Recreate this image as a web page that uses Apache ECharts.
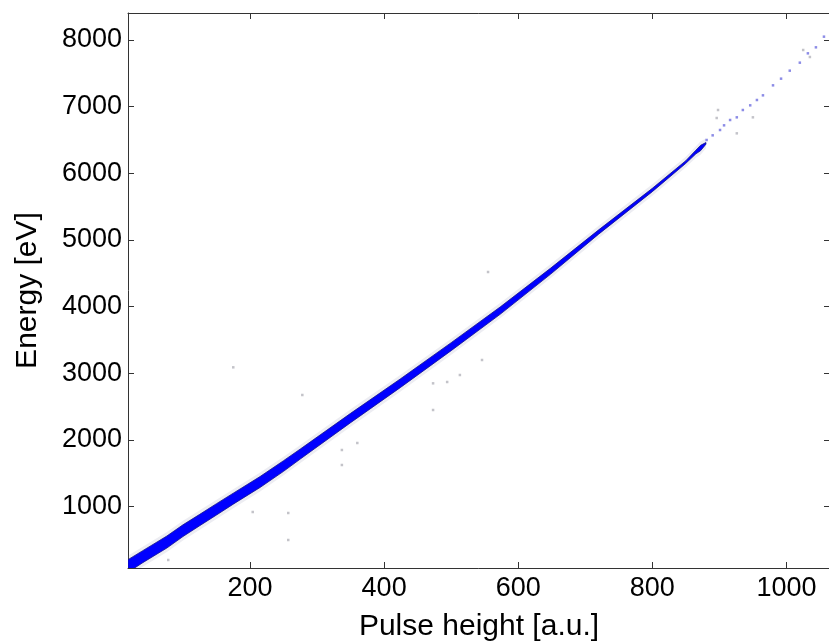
<!DOCTYPE html>
<html>
<head>
<meta charset="utf-8">
<script src="https://cdn.jsdelivr.net/npm/echarts@6/dist/echarts.min.js"></script>
<style>
  html, body { margin: 0; padding: 0; background: #ffffff; }
  #chart { width: 829px; height: 641px; }
</style>
</head>
<body>
<div id="chart"></div>
<script>
// Axis ticks
const xTicks = [200, 400, 600, 800, 1000];
const yTicks = [1000, 2000, 3000, 4000, 5000, 6000, 7000, 8000];

// Dense calibration band: pulse height vs. lower / upper energy edge of the point cloud
const bandPH   = [18, 40, 76, 100, 125, 150, 175, 215, 250, 275, 350, 424, 500, 573, 648, 720, 800, 850, 865, 872, 880];
const bandLow  = [15, 160, 380, 552, 715, 875, 1038, 1288, 1530, 1715, 2260, 2785, 3340, 3885, 4485, 5088, 5725, 6150, 6292, 6340, 6438];
const bandHigh = [205, 340, 560, 728, 885, 1045, 1202, 1452, 1690, 1865, 2400, 2915, 3460, 3995, 4575, 5152, 5775, 6190, 6348, 6420, 6462];

// Sparse high-energy events above ~880 a.u.
const tailPH = [881, 890, 901, 907, 916, 926, 935, 946, 956, 965, 980, 992, 1005, 1020, 1032, 1044, 1056];
const tailE  = [6500, 6570, 6650, 6720, 6800, 6840, 6950, 7020, 7100, 7170, 7320, 7420, 7540, 7660, 7800, 7890, 8050];

// Isolated off-band events
const strayPH = [175, 204, 257, 257, 78, 555, 546, 513, 473, 473, 494, 360, 337, 337, 278, 896, 926, 950, 898, 1025, 1035];
const strayE  = [3090, 920, 905, 500, 200, 4520, 3200, 2975, 2850, 2450, 2870, 1955, 1850, 1625, 2675, 6830, 6600, 6840, 6950, 7850, 7745];

const tailData = tailPH.map((p, i) => [p, tailE[i]]);
const strayData = strayPH.map((p, i) => [p, strayE[i]]);

function renderBand(params, api) {
  const upper = bandPH.map((p, i) => api.coord([p, bandHigh[i]]));
  const lower = bandPH.map((p, i) => api.coord([p, bandLow[i]])).reverse();
  const core = upper.concat(lower);
  const halo = upper.map(q => [q[0], q[1] - 4]).concat(lower.map(q => [q[0], q[1] + 4]));
  return {
    type: 'group',
    children: [
      { type: 'polygon', shape: { points: halo }, style: { fill: 'rgba(130,130,160,0.14)' } },
      { type: 'polygon', shape: { points: core }, style: { fill: '#0000ff', stroke: '#14148c', lineWidth: 0.8 } }
    ]
  };
}

const font = 'Liberation Sans, Arial, Helvetica, sans-serif';
const axisColor = '#333333';
const plain = v => String(v);

const chart = echarts.init(document.getElementById('chart'), null, { renderer: 'canvas' });
chart.setOption({
  animation: false,
  backgroundColor: '#ffffff',
  grid: { left: 128, top: 13, right: -1, bottom: 73, containLabel: false, outerBoundsMode: 'none' },
  xAxis: [
    {
      type: 'value', min: 18, max: 1065, position: 'bottom',
      name: 'Pulse height [a.u.]', nameLocation: 'middle', nameGap: 44,
      nameTextStyle: { fontFamily: font, fontSize: 30, color: '#000' },
      axisLine: { show: true, lineStyle: { color: axisColor, width: 1 } },
      axisTick: { show: true, inside: true, length: 6, customValues: xTicks, lineStyle: { color: axisColor } },
      axisLabel: { show: true, customValues: xTicks, formatter: plain, margin: 7, fontFamily: font, fontSize: 27, color: '#000' },
      splitLine: { show: false }
    },
    {
      type: 'value', min: 18, max: 1065, position: 'top',
      axisLine: { show: true, lineStyle: { color: axisColor, width: 1 } },
      axisTick: { show: true, inside: true, length: 6, customValues: xTicks, lineStyle: { color: axisColor } },
      axisLabel: { show: false },
      splitLine: { show: false }
    }
  ],
  yAxis: [
    {
      type: 'value', min: 80, max: 8405, position: 'left',
      name: 'Energy [eV]', nameLocation: 'middle', nameGap: 85, nameRotate: 90,
      nameTextStyle: { fontFamily: font, fontSize: 30, color: '#000' },
      axisLine: { show: true, lineStyle: { color: axisColor, width: 1 } },
      axisTick: { show: true, inside: true, length: 6, customValues: yTicks, lineStyle: { color: axisColor } },
      axisLabel: { show: true, customValues: yTicks, formatter: plain, margin: 6, fontFamily: font, fontSize: 27, color: '#000' },
      splitLine: { show: false }
    },
    {
      type: 'value', min: 80, max: 8405, position: 'right',
      axisLine: { show: true, lineStyle: { color: axisColor, width: 1 } },
      axisTick: { show: true, inside: true, length: 6, customValues: yTicks, lineStyle: { color: axisColor } },
      axisLabel: { show: false },
      splitLine: { show: false }
    }
  ],
  series: [
    {
      type: 'custom', xAxisIndex: 0, yAxisIndex: 0, clip: true,
      renderItem: renderBand,
      data: [[bandPH[0], bandLow[0]]],
      silent: true
    },
    {
      type: 'scatter', xAxisIndex: 0, yAxisIndex: 0,
      data: tailData, symbol: 'rect', symbolSize: 2.5,
      itemStyle: { color: '#6f6fe0' }, silent: true
    },
    {
      type: 'scatter', xAxisIndex: 0, yAxisIndex: 0,
      data: strayData, symbol: 'rect', symbolSize: 2.5,
      itemStyle: { color: '#b4b4bc' }, silent: true
    }
  ]
});
</script>
</body>
</html>
